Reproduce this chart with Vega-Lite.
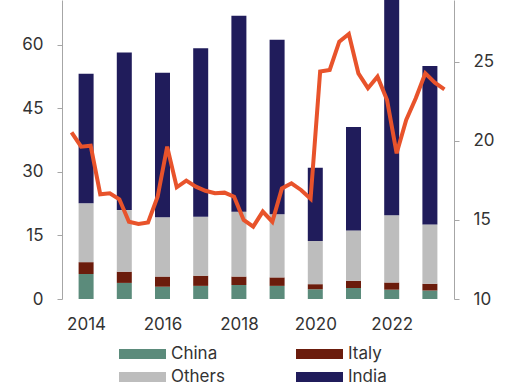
{
  "$schema": "https://vega.github.io/schema/vega-lite/v6.json",
  "width": 392,
  "height": 299,
  "autosize": {"type": "none"},
  "padding": {"left": 62, "top": 0, "right": 56, "bottom": 83},
  "background": "white",
  "config": {
    "view": {"stroke": null},
    "font": "Inter",
    "axis": {"labelFont": "Inter", "labelFontSize": 17, "labelColor": "#333333", "grid": false, "title": null, "domainColor": "#a6a6a6", "tickColor": "#a6a6a6", "tickSize": 5, "domainWidth": 1, "tickWidth": 1},
    "legend": {"labelFont": "Inter", "labelFontSize": 17, "labelColor": "#333333"}
  },
  "datasets": {
    "bars": [
      {"year": 2014, "cat": "China", "rank": 1, "value": 5.9},
      {"year": 2014, "cat": "Italy", "rank": 2, "value": 2.8},
      {"year": 2014, "cat": "Others", "rank": 3, "value": 13.9},
      {"year": 2014, "cat": "India", "rank": 4, "value": 30.6},
      {"year": 2015, "cat": "China", "rank": 1, "value": 3.8},
      {"year": 2015, "cat": "Italy", "rank": 2, "value": 2.65},
      {"year": 2015, "cat": "Others", "rank": 3, "value": 14.55},
      {"year": 2015, "cat": "India", "rank": 4, "value": 37.2},
      {"year": 2016, "cat": "China", "rank": 1, "value": 2.9},
      {"year": 2016, "cat": "Italy", "rank": 2, "value": 2.4},
      {"year": 2016, "cat": "Others", "rank": 3, "value": 14.0},
      {"year": 2016, "cat": "India", "rank": 4, "value": 34.1},
      {"year": 2017, "cat": "China", "rank": 1, "value": 3.1},
      {"year": 2017, "cat": "Italy", "rank": 2, "value": 2.4},
      {"year": 2017, "cat": "Others", "rank": 3, "value": 13.9},
      {"year": 2017, "cat": "India", "rank": 4, "value": 39.8},
      {"year": 2018, "cat": "China", "rank": 1, "value": 3.3},
      {"year": 2018, "cat": "Italy", "rank": 2, "value": 2.0},
      {"year": 2018, "cat": "Others", "rank": 3, "value": 15.3},
      {"year": 2018, "cat": "India", "rank": 4, "value": 46.3},
      {"year": 2019, "cat": "China", "rank": 1, "value": 3.1},
      {"year": 2019, "cat": "Italy", "rank": 2, "value": 2.0},
      {"year": 2019, "cat": "Others", "rank": 3, "value": 14.9},
      {"year": 2019, "cat": "India", "rank": 4, "value": 41.2},
      {"year": 2020, "cat": "China", "rank": 1, "value": 2.3},
      {"year": 2020, "cat": "Italy", "rank": 2, "value": 1.2},
      {"year": 2020, "cat": "Others", "rank": 3, "value": 10.2},
      {"year": 2020, "cat": "India", "rank": 4, "value": 17.3},
      {"year": 2021, "cat": "China", "rank": 1, "value": 2.6},
      {"year": 2021, "cat": "Italy", "rank": 2, "value": 1.7},
      {"year": 2021, "cat": "Others", "rank": 3, "value": 11.9},
      {"year": 2021, "cat": "India", "rank": 4, "value": 24.4},
      {"year": 2022, "cat": "China", "rank": 1, "value": 2.2},
      {"year": 2022, "cat": "Italy", "rank": 2, "value": 1.7},
      {"year": 2022, "cat": "Others", "rank": 3, "value": 15.9},
      {"year": 2022, "cat": "India", "rank": 4, "value": 53.2},
      {"year": 2023, "cat": "China", "rank": 1, "value": 2.0},
      {"year": 2023, "cat": "Italy", "rank": 2, "value": 1.6},
      {"year": 2023, "cat": "Others", "rank": 3, "value": 14.0},
      {"year": 2023, "cat": "India", "rank": 4, "value": 37.4}
    ],
    "line": [
      {"q": "2014Q1", "v": 20.55}, {"q": "2014Q2", "v": 19.64}, {"q": "2014Q3", "v": 19.7}, {"q": "2014Q4", "v": 16.63},
      {"q": "2015Q1", "v": 16.69}, {"q": "2015Q2", "v": 16.31}, {"q": "2015Q3", "v": 14.89}, {"q": "2015Q4", "v": 14.75},
      {"q": "2016Q1", "v": 14.85}, {"q": "2016Q2", "v": 16.47}, {"q": "2016Q3", "v": 19.64}, {"q": "2016Q4", "v": 17.07},
      {"q": "2017Q1", "v": 17.49}, {"q": "2017Q2", "v": 17.11}, {"q": "2017Q3", "v": 16.85}, {"q": "2017Q4", "v": 16.69},
      {"q": "2018Q1", "v": 16.73}, {"q": "2018Q2", "v": 16.47}, {"q": "2018Q3", "v": 15.0}, {"q": "2018Q4", "v": 14.58},
      {"q": "2019Q1", "v": 15.53}, {"q": "2019Q2", "v": 14.89}, {"q": "2019Q3", "v": 17.0}, {"q": "2019Q4", "v": 17.32},
      {"q": "2020Q1", "v": 16.9}, {"q": "2020Q2", "v": 16.35}, {"q": "2020Q3", "v": 24.39}, {"q": "2020Q4", "v": 24.49},
      {"q": "2021Q1", "v": 26.28}, {"q": "2021Q2", "v": 26.77}, {"q": "2021Q3", "v": 24.28}, {"q": "2021Q4", "v": 23.34},
      {"q": "2022Q1", "v": 24.07}, {"q": "2022Q2", "v": 22.59}, {"q": "2022Q3", "v": 19.22}, {"q": "2022Q4", "v": 21.33},
      {"q": "2023Q1", "v": 22.7}, {"q": "2023Q2", "v": 24.28}, {"q": "2023Q3", "v": 23.69}, {"q": "2023Q4", "v": 23.27}
    ]
  },
  "layer": [
    {
      "data": {"name": "bars"},
      "mark": {"type": "bar", "size": 15, "clip": true},
      "encoding": {
        "x": {"field": "year", "type": "quantitative", "scale": {"domain": [2013.5, 2023.5], "nice": false, "zero": false},
              "axis": {"values": [2014, 2016, 2018, 2020, 2022], "format": "d", "domain": false, "ticks": false, "labelPadding": 17}},
        "y": {"aggregate": "sum", "field": "value", "type": "quantitative", "stack": "zero",
              "scale": {"domain": [0, 70.6], "nice": false},
              "axis": {"values": [0, 15, 30, 45, 60], "labelPadding": 14}},
        "color": {"field": "cat", "type": "nominal",
                  "scale": {"domain": ["China", "Italy", "Others", "India"], "range": ["#5b8b7b", "#6b1c0c", "#bdbdbd", "#201c5b"]},
                  "legend": {"title": null, "orient": "none", "legendX": 70.5, "legendY": 344, "columns": 2, "direction": "horizontal", "padding": 0,
                             "symbolType": "M-2.35,-0.5H2.35V0.5H-2.35Z", "symbolSize": 400, "symbolStrokeWidth": 0, "symbolOpacity": 1,
                             "labelOffset": 18.5, "columnPadding": 70, "rowPadding": 5}},
        "order": {"field": "rank", "type": "quantitative"}
      }
    },
    {
      "data": {"name": "line"},
      "mark": {"type": "line", "color": "#e8532b", "strokeWidth": 4, "clip": true},
      "encoding": {
        "x": {"field": "q", "type": "ordinal", "scale": {"type": "point", "padding": 1.1}, "axis": null},
        "y": {"field": "v", "type": "quantitative", "scale": {"domain": [10, 28.92], "nice": false, "zero": false},
              "axis": {"orient": "right", "values": [10, 15, 20, 25], "labelPadding": 14}}
      }
    }
  ],
  "resolve": {"scale": {"x": "independent", "y": "independent", "color": "independent"}}
}
